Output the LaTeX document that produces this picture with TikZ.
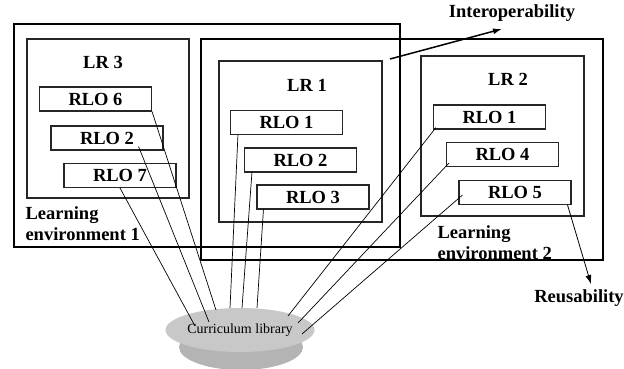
\documentclass[tikz,border=0pt]{standalone}
\usepackage{fontspec}
\setmainfont{Liberation Serif}
\usetikzlibrary{arrows.meta,shapes.geometric}
\definecolor{libtop}{RGB}{200,200,200}
\definecolor{libside}{RGB}{180,180,180}

\begin{document}
\begin{tikzpicture}[x=1pt,y=-1pt,font=\bfseries\fontsize{18.5}{21}\selectfont]
   \clip (0,0) rectangle (624,368);
   \tikzstyle{env}=[rectangle, draw=black, line width=2.2pt, inner sep=0pt]
   \tikzstyle{repo}=[rectangle, draw=black!85, line width=1.1pt, inner sep=0pt]
   \tikzstyle{rlo}=[rectangle, draw=black!85, line width=1.1pt, minimum width=112pt, minimum height=24pt, inner sep=0pt]
   \tikzstyle{link}=[line width=0.7pt]
   \tikzstyle{pointer}=[-{Latex[length=9pt,width=6pt]}]
   % learning environments
   \node[env, minimum width=386pt, minimum height=223pt] (env1) at (207,135.5) {};
   \node[env, minimum width=402pt, minimum height=221pt] (env2) at (402,149.5) {};
   \node[anchor=west, align=left] (envlabel1) at (22,224) {Learning\\environment 1};
   \node[anchor=west, align=left] (envlabel2) at (434,243) {Learning\\environment 2};
   % repositories
   \node[repo, minimum width=162pt, minimum height=159pt] (lr3) at (108,118.5) {};
   \node[repo, minimum width=163pt, minimum height=161pt] (lr1) at (300.5,141.5) {};
   \node[repo, minimum width=163pt, minimum height=160pt] (lr2) at (502.5,136) {};
   \node (lr3title) at (103,62) {LR 3};
   \node (lr1title) at (307,85) {LR 1};
   \node (lr2title) at (508,79) {LR 2};
   \foreach \name/\x/\y/\txt in {c6/95.5/99/{RLO 6}, c2/107/138/{RLO 2}, c7/120/175.5/{RLO 7},
                                 a1/286.5/122.5/{RLO 1}, a2/300.5/160/{RLO 2}, a3/313/197/{RLO 3},
                                 b1/489.5/117/{RLO 1}, b4/502.5/154.5/{RLO 4}, b5/515/192.5/{RLO 5}} {
       \node[rlo] (\name) at (\x,\y) {\txt};
   }
   % curriculum library
   \fill[libside] (241,347) ellipse [x radius=62, y radius=23];
   \node[ellipse, fill=libtop, minimum width=126pt, minimum height=44pt, inner sep=0pt,
         font=\normalfont\fontsize{14}{16}\selectfont] (lib) at (240,330) {Curriculum library};
   \foreach \n/\x/\y in {l1/195/326, l2/209/322, l3/216/310, l4/230/308, l5/242/308,
                         l6/257/308, l7/288/316, l8/298/323, l9/302/334} {
       \coordinate (\n) at (\x,\y);
   }
   \foreach \from/\dx/\dy/\to in {c7.south/0/0/l1, c2.south east/-25/4/l2, c6.south east/0/0/l3,
                                  a1.south west/8/0/l4, a2.south west/8/0/l5, a3.south west/7/0/l6,
                                  b1.south west/3/2/l7, b4.south west/3/4/l8, b5.south west/4/10/l9} {
       \draw[link] ([xshift=\dx pt,yshift=\dy pt]\from) -- (\to);
   }
   % interoperability and reusability
   \node (interop) at (512,13) {Interoperability};
   \node (reuse) at (579,298) {Reusability};
   \coordinate (iopstart) at (390,59);
   \draw[pointer, line width=1.5pt] (iopstart) -- ([xshift=-10pt,yshift=-4pt]interop.south);
   \draw[pointer, line width=0.8pt] ([xshift=-4pt]b5.south east) -- ([xshift=12pt,yshift=2pt]reuse.north);
\end{tikzpicture}
\end{document}
